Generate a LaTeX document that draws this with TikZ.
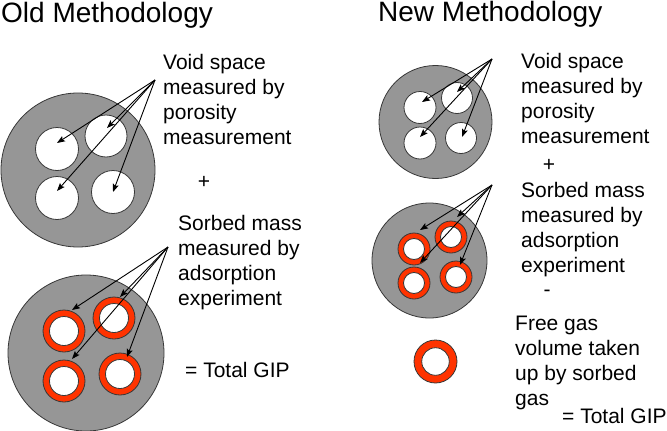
\documentclass[tikz,border=0pt]{standalone}
\usepackage{fontspec}
\setmainfont{Liberation Sans}
\usetikzlibrary{arrows.meta}
\definecolor{rockgray}{RGB}{150,150,150}
\definecolor{sorbred}{RGB}{255,51,0}
\definecolor{edgegray}{RGB}{55,55,55}
\begin{document}
\begin{tikzpicture}[x=1pt,y=-1pt,
 grain/.style={circle, draw=edgegray, line width=0.8pt, fill=rockgray, inner sep=0pt, minimum size=#1},
 pore/.style={circle, draw=edgegray, line width=0.8pt, fill=white, inner sep=0pt, minimum size=#1},
 ringbox/.style={circle, draw=edgegray, line width=0.8pt, fill=sorbred, inner sep=0pt, minimum size=#1},
 ptr/.style={-{Stealth[length=8pt,width=6pt,inset=1.5pt]}, line width=0.9pt, black},
 lbl/.style={anchor=north west, inner sep=0pt, align=left, font=\fontsize{21}{25}\selectfont},
 sign/.style={inner sep=0pt, font=\fontsize{21}{25}\selectfont},
 ttl/.style={anchor=base west, inner sep=0pt, font=\fontsize{28}{32}\selectfont}]
\useasboundingbox (0,0) rectangle (667,431);

% titles
\node[ttl] (oldt) at (1,22) {Old Methodology};
\node[ttl] (newt) at (378,21) {New Methodology};

% ---------- Old methodology, top ----------
\node[grain=154pt] (og1) at (78,170) {};
\node[pore=43pt] (op1) at (57,149) {};
\node[pore=42pt] (op2) at (106,136) {};
\node[pore=43pt] (op3) at (57,198) {};
\node[pore=43pt] (op4) at (113,192) {};
\coordinate (osrc1) at (155,80);
\coordinate (ot1) at (57,143);
\coordinate (ot2) at (107,128);
\coordinate (ot3) at (57,191);
\coordinate (ot4) at (113,192);
\foreach \t in {ot1,ot2,ot3,ot4} \draw[ptr] (osrc1) -- (\t);
\node[lbl] (ovoid) at (163,51.5) {\strut Void space\\measured by\\porosity\\measurement};
\node[sign] (oplus) at (204,182) {+};

% ---------- Old methodology, bottom ----------
\node[grain=156pt] (og2) at (86,353) {};
\foreach \n/\p in {or1/{(64,331)}, or2/{(114,318)}, or3/{(64,381)}, or4/{(120,374)}} {
  \node[ringbox=42pt] (\n) at \p {};
  \node[pore=29pt] (\n i) at \p {};
}
\coordinate (osrc2) at (168,247);
\coordinate (os1) at (72,310);
\coordinate (os2) at (120,297);
\coordinate (os3) at (72,359);
\coordinate (os4) at (127,357);
\foreach \t in {os1,os2,os3,os4} \draw[ptr] (osrc2) -- (\t);
\node[lbl] (osorb) at (178,212.5) {\strut Sorbed mass\\measured by\\adsorption\\experiment};
\node[anchor=base west, inner sep=0pt, font=\fontsize{21}{25}\selectfont] (ototal) at (185,377) {= Total GIP};

% ---------- New methodology, top ----------
\node[grain=113pt] (ng1) at (435.5,122) {};
\node[pore=32pt] (np1) at (420,107.5) {};
\node[pore=31pt] (np2) at (457,98) {};
\node[pore=32pt] (np3) at (420,143) {};
\node[pore=31pt] (np4) at (461,138) {};
\coordinate (nsrc1) at (492,59);
\coordinate (nt1) at (422,102);
\coordinate (nt2) at (457,92);
\coordinate (nt3) at (420,137);
\coordinate (nt4) at (462,137);
\foreach \t in {nt1,nt2,nt3,nt4} \draw[ptr] (nsrc1) -- (\t);
\node[lbl] (nvoid) at (521,50.5) {\strut Void space\\measured by\\porosity\\measurement};
\node[sign] (nplus) at (549,165) {+};

% ---------- New methodology, middle ----------
\node[grain=115pt] (ng2) at (429.5,260.5) {};
\foreach \n/\p in {nr1/{(414,249)}, nr2/{(451,237)}, nr3/{(414,283)}, nr4/{(456,277)}} {
  \node[ringbox=32pt] (\n) at \p {};
  \node[pore=21pt] (\n i) at \p {};
}
\coordinate (nsrc2) at (492,185);
\coordinate (ns1) at (420,230);
\coordinate (ns2) at (457,217);
\coordinate (ns3) at (420,263);
\coordinate (ns4) at (460,265);
\foreach \t in {ns1,ns2,ns3,ns4} \draw[ptr] (nsrc2) -- (\t);
\node[lbl] (nsorb) at (521,179.5) {\strut Sorbed mass\\measured by\\adsorption\\experiment};
\node[sign] (nminus) at (547,293) {-};

% ---------- New methodology, free gas ring ----------
\node[ringbox=43pt] (fring) at (435.5,361.5) {};
\node[pore=27.5pt] (fringi) at (435.5,361.5) {};
\node[lbl] (nfree) at (515,312.5) {\strut Free gas\\volume taken\\up by sorbed\\gas};
\node[anchor=base west, inner sep=0pt, font=\fontsize{21}{25}\selectfont] (ntotal) at (562,423) {= Total GIP};
\end{tikzpicture}
\end{document}
